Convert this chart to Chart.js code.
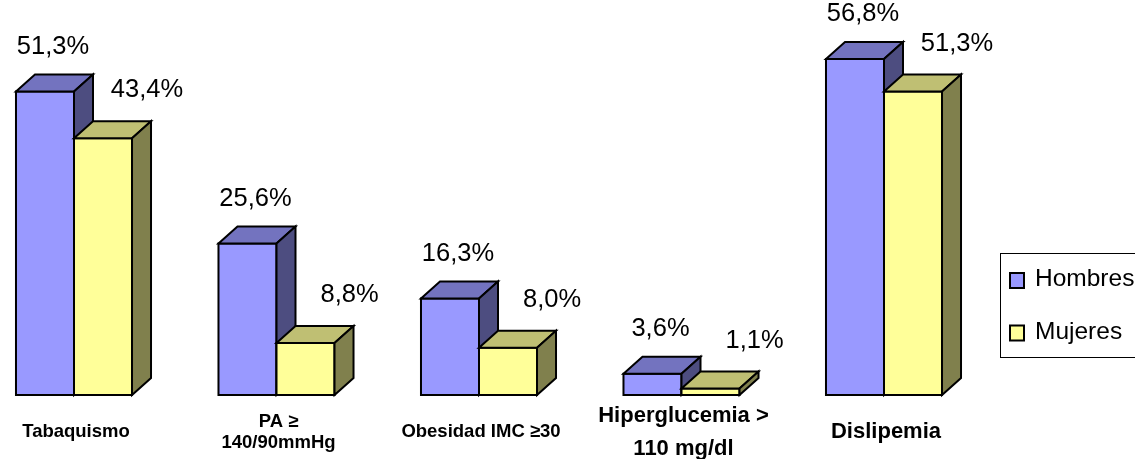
<!DOCTYPE html>
<html><head><meta charset="utf-8">
<script src="https://cdn.jsdelivr.net/npm/chart.js@4.4.0/dist/chart.umd.min.js"></script>
<style>html,body{margin:0;padding:0;background:#fff;overflow:hidden}#wrap{position:relative;width:1135px;height:459px}</style>
</head><body><div id="wrap"><canvas id="c"></canvas></div>
<script>
// ---- data ----
const categories = [['Tabaquismo'], ['PA ≥', '140/90mmHg'], ['Obesidad IMC ≥30'], ['Hiperglucemia >', '110 mg/dl'], ['Dislipemia']];
const seriesNames = ['Hombres', 'Mujeres'];
const hombres = [51.3, 25.6, 16.3, 3.6, 56.8];
const mujeres = [43.4, 8.8, 8.0, 1.1, 51.3];

// ---- style ----
const FONT = '"Liberation Sans", Arial, Helvetica, sans-serif';
const faceColors = [
  {front: '#9999FF', top: '#7373BF', side: '#4D4D80'},
  {front: '#FFFF99', top: '#BFBF73', side: '#80804D'}
];
const DX = 19, DY = 17;
const catFontSizes = [18.5, 18.5, 18.5, 22, 22];
const catLineHeights = [21, 21, 21, 33, 33];
const catCenterY = 432;
const valueOffsets = [{dx: 8, dy: -45}, {dx: 44, dy: -48}];

function fmt(v) { return v.toFixed(1).replace('.', ',') + '%'; }

function poly(ctx, pts, fill) {
  ctx.beginPath();
  ctx.moveTo(pts[0][0], pts[0][1]);
  for (let k = 1; k < pts.length; k++) ctx.lineTo(pts[k][0], pts[k][1]);
  ctx.closePath();
  ctx.fillStyle = fill; ctx.fill(); ctx.stroke();
}

const bars3d = {
  id: 'bars3d',
  beforeDatasetsDraw(chart) {
    const ctx = chart.ctx;
    const metas = chart.data.datasets.map((d, i) => chart.getDatasetMeta(i));
    const n = chart.data.labels.length;
    ctx.save();
    ctx.lineWidth = 2; ctx.strokeStyle = '#000'; ctx.lineJoin = 'miter';
    for (let i = 0; i < n; i++) {
      metas.forEach((meta, s) => {
        const el = meta.data[i];
        const p = el.getProps(['x', 'y', 'base', 'width'], true);
        const l = p.x - p.width / 2, r = p.x + p.width / 2, y = p.y, b = p.base;
        const c = faceColors[s];
        poly(ctx, [[l, y], [r, y], [r, b], [l, b]], c.front);
        poly(ctx, [[l, y], [l + DX, y - DY], [r + DX, y - DY], [r, y]], c.top);
        poly(ctx, [[r, y], [r + DX, y - DY], [r + DX, b - DY], [r, b]], c.side);
      });
    }
    ctx.restore();
    return false;
  },
  afterDraw(chart) {
    const ctx = chart.ctx;
    const xs = chart.scales.x;
    ctx.save();
    // value labels
    ctx.fillStyle = '#000';
    ctx.textAlign = 'center'; ctx.textBaseline = 'middle';
    ctx.font = '25.5px ' + FONT;
    chart.data.datasets.forEach((ds, s) => {
      const meta = chart.getDatasetMeta(s);
      meta.data.forEach((el, i) => {
        const p = el.getProps(['x', 'y', 'width'], true);
        ctx.fillText(fmt(ds.data[i]), p.x + valueOffsets[s].dx, p.y + valueOffsets[s].dy);
      });
    });
    // category labels
    chart.data.labels.forEach((lab, i) => {
      const lines = Array.isArray(lab) ? lab : [lab];
      const lh = catLineHeights[i];
      ctx.font = 'bold ' + catFontSizes[i] + 'px ' + FONT;
      const x = xs.getPixelForValue(i) + 2;
      const y0 = catCenterY - (lines.length - 1) * lh / 2;
      lines.forEach((t, k) => ctx.fillText(t, x, y0 + k * lh));
    });
    // legend
    ctx.lineWidth = 1; ctx.strokeStyle = '#000';
    ctx.strokeRect(1000.5, 253.5, 200, 104);
    ctx.textAlign = 'left';
    ctx.font = '24.5px ' + FONT;
    const ly = [280.5, 333];
    seriesNames.forEach((name, s) => {
      ctx.fillStyle = faceColors[s].front;
      ctx.lineWidth = 2;
      ctx.fillRect(1010, ly[s] - 7.5, 14, 15);
      ctx.strokeRect(1010, ly[s] - 7.5, 14, 15);
      ctx.fillStyle = '#000';
      ctx.fillText(name, 1035, ly[s] - 1);
    });
    ctx.restore();
  }
};

new Chart(document.getElementById('c'), {
  type: 'bar',
  data: {
    labels: categories,
    datasets: [
      {label: seriesNames[0], data: hombres, backgroundColor: faceColors[0].front},
      {label: seriesNames[1], data: mujeres, backgroundColor: faceColors[1].front}
    ]
  },
  options: {
    responsive: true,
    maintainAspectRatio: false,
    animation: false,
    layout: {padding: {left: 74, right: 251, top: 40, bottom: 64}},
    categoryPercentage: 0.573,
    barPercentage: 1.0,
    plugins: {legend: {display: false}, tooltip: {enabled: false}},
    scales: {
      x: {display: false, offset: false},
      y: {display: false, min: 0, max: 60}
    }
  },
  plugins: [bars3d]
});
</script>
</body></html>
